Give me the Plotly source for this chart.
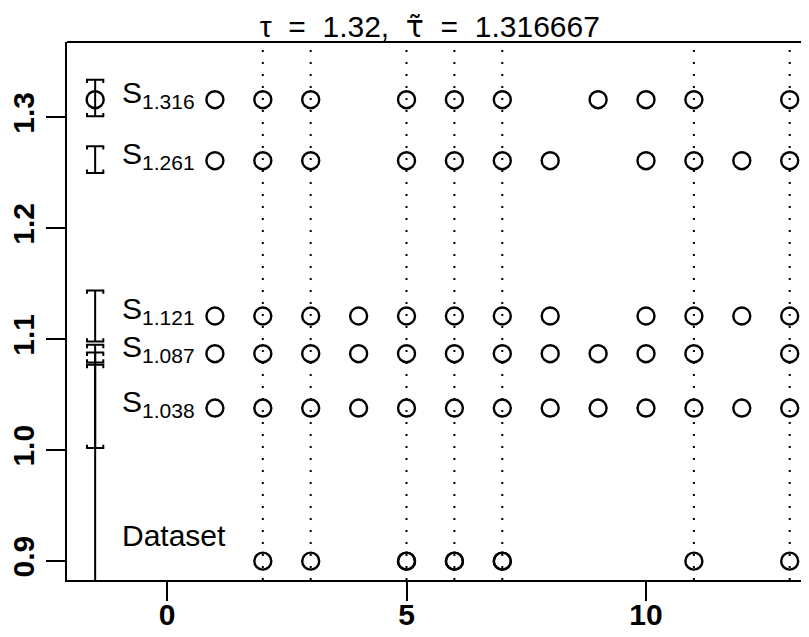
import plotly.graph_objects as go

# ---- data ----
S_VALUES = [1.316, 1.261, 1.121, 1.087, 1.038]
S_LABELS = ["1.316", "1.261", "1.121", "1.087", "1.038"]
S_POINTS = [
    [1, 2, 3, 5, 6, 7, 9, 10, 11, 13],
    [1, 2, 3, 5, 6, 7, 8, 10, 11, 12, 13],
    [1, 2, 3, 4, 5, 6, 7, 8, 10, 11, 12, 13],
    [1, 2, 3, 4, 5, 6, 7, 8, 9, 10, 11, 13],
    [1, 2, 3, 4, 5, 6, 7, 8, 9, 10, 11, 12, 13],
]
DATASET = [2, 3, 5, 5, 6, 6, 7, 7, 11, 13]
DATASET_Y = 0.9
# intervals (S rows then Dataset)
CI_CENTER = [1.316, 1.261, 1.121, 1.087, 1.038, 0.9]
CI_LOW = [1.301, 1.250, 1.098, 1.079, 1.002, 0.71]
CI_HIGH = [1.334, 1.274, 1.144, 1.095, 1.077, 1.088]
X_TICKS = [0, 5, 10]
Y_TICKS = [0.9, 1.0, 1.1, 1.2, 1.3]
Y_TICKTEXT = ["0.9", "1.0", "1.1", "1.2", "1.3"]
TAU = "1.32"
TAU_TILDE = "1.316667"

# ---- style ----
FONT = "Liberation Sans, Arial, sans-serif"
CI_X = -1.5
CAP_HALF = 0.17
CAP_TICK = 0.003
LABEL_X = -0.98
MARK = dict(symbol="circle-open", size=17, color="black", line=dict(width=2.4, color="black"))
SP = "&nbsp;&nbsp;"
TITLE = (f"τ{SP}={SP}{TAU},{SP}<span style='font-family:DejaVu Sans'>τ̃</span>"
         f"{SP}={SP}{TAU_TILDE}")

# page body has an 8px margin: figure is sized/offset to fit 809x637 window
W, H = 801, 629
ML, MT, MB = 59, 34, 57

fig = go.Figure()

# dotted vertical lines at dataset values
for xv in sorted(set(DATASET)):
    fig.add_shape(type="line", xref="x", yref="paper", x0=xv, x1=xv, y0=0, y1=1,
                  line=dict(color="black", width=2, dash="2px,10px"), layer="below")

# interval bars
ex, ey = [], []
for lo, hi in zip(CI_LOW, CI_HIGH):
    ex += [CI_X - CAP_HALF, CI_X - CAP_HALF, CI_X + CAP_HALF, CI_X + CAP_HALF, None]
    ey += [hi - CAP_TICK, hi, hi, hi - CAP_TICK, None]
    ex += [CI_X, CI_X, None]
    ey += [hi, lo, None]
    ex += [CI_X - CAP_HALF, CI_X - CAP_HALF, CI_X + CAP_HALF, CI_X + CAP_HALF, None]
    ey += [lo + CAP_TICK, lo, lo, lo + CAP_TICK, None]
fig.add_trace(go.Scatter(x=ex, y=ey, mode="lines", line=dict(color="black", width=2),
                         hoverinfo="skip", showlegend=False))
# circle on selected interval
fig.add_trace(go.Scatter(x=[CI_X], y=[CI_CENTER[0]], mode="markers", marker=MARK,
                         showlegend=False))

# rows of S points
for yv, pts in zip(S_VALUES, S_POINTS):
    fig.add_trace(go.Scatter(x=pts, y=[yv] * len(pts), mode="markers", marker=MARK,
                             showlegend=False))
fig.add_trace(go.Scatter(x=DATASET, y=[DATASET_Y] * len(DATASET), mode="markers",
                         marker=MARK, showlegend=False))

# labels
for yv, lab in zip(S_VALUES, S_LABELS):
    fig.add_annotation(x=LABEL_X, y=yv, text=f"S<sub>{lab}</sub>", showarrow=False,
                       xanchor="left", yanchor="middle", yshift=5,
                       font=dict(family=FONT, size=30, color="black"))
fig.add_annotation(x=LABEL_X, y=DATASET_Y, text="Dataset", showarrow=False,
                   xanchor="left", yanchor="middle", yshift=26,
                   font=dict(family=FONT, size=30, color="black"))

# top border
fig.add_shape(type="line", xref="paper", yref="paper", x0=0, x1=1, y0=1, y1=1,
              line=dict(color="black", width=2))

fig.update_layout(
    width=W, height=H,
    margin=dict(l=ML, r=0, t=MT, b=MB),
    paper_bgcolor="white", plot_bgcolor="white",
    title=dict(text=TITLE, x=0.489, xref="paper", xanchor="center",
               y=1 - 18 / H, yanchor="middle",
               font=dict(family=FONT, size=30, color="black")),
    xaxis=dict(range=[-2.088, 13.403], tickvals=X_TICKS, ticks="outside", ticklen=19,
               tickwidth=2, tickcolor="black", showline=True, linewidth=2, linecolor="black",
               showgrid=False, zeroline=False, automargin=False, ticklabelstandoff=-12,
               tickfont=dict(family=FONT, size=30, color="black", weight=700)),
    yaxis=dict(range=[0.883, 1.368], tickvals=Y_TICKS, ticktext=Y_TICKTEXT, tickangle=-90,
               ticks="outside", ticklen=19, tickwidth=2, tickcolor="black",
               showline=True, linewidth=2, linecolor="black",
               showgrid=False, zeroline=False, automargin=False,
               tickfont=dict(family=FONT, size=30, color="black", weight=700)),
)

fig.write_html("out.html")
